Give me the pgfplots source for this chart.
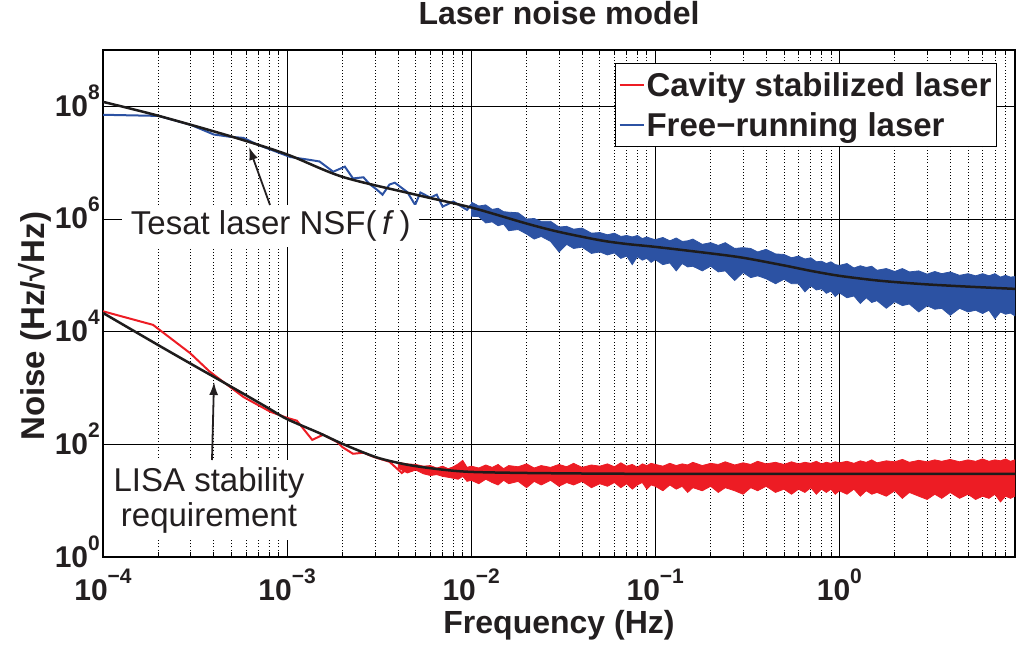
\documentclass[border=0pt]{standalone}
\usepackage{pgfplots}
\pgfplotsset{compat=1.18}
\usepgfplotslibrary{fillbetween}
\usetikzlibrary{arrows.meta}
\usepackage{fontspec}
\setmainfont{Liberation Sans}

\definecolor{cavred}{RGB}{237,28,36}
\definecolor{frblue}{RGB}{44,82,163}
\definecolor{modelblk}{RGB}{30,28,28}
\definecolor{txtblk}{RGB}{35,31,32}

% power-of-ten tick label with a raised exponent
\newcommand{\tk}[1]{10\raisebox{17pt}{\fontsize{21}{21}\selectfont #1}}

\begin{document}
\begin{tikzpicture}
\begin{axis}[
  at={(103pt,91pt)}, anchor=south west,
  scale only axis, width=912pt, height=507pt,
  xmode=log, ymode=log,
  xmin=1e-4, xmax=9, ymin=1, ymax=1e9,
  xtick={1e-4,1e-3,1e-2,1e-1,1},
  xticklabels={\tk{−4},\tk{−3},\tk{−2},\tk{−1},\tk{0}},
  minor xtick={2e-4,3e-4,4e-4,5e-4,6e-4,7e-4,8e-4,9e-4,
               2e-3,3e-3,4e-3,5e-3,6e-3,7e-3,8e-3,9e-3,
               0.02,0.03,0.04,0.05,0.06,0.07,0.08,0.09,
               0.2,0.3,0.4,0.5,0.6,0.7,0.8,0.9,
               2,3,4,5,6,7,8},
  ytick={1,1e2,1e4,1e6,1e8},
  yticklabels={\tk{0},\tk{2},\tk{4},\tk{6},\tk{8}},
  minor ytick={},
  xmajorgrids, xminorgrids, ymajorgrids,
  major grid style={black, line width=0.8pt},
  minor grid style={black, line width=0.7pt, dash pattern=on 1pt off 2.2pt},
  axis line style={black, line width=1.6pt},
  tick align=inside,
  major tick length=9pt, minor tick length=5pt,
  every tick/.style={black, line width=0.8pt},
  ticklabel style={font=\fontsize{30}{30}\selectfont\bfseries, text=txtblk},
  xticklabel style={anchor=base, inner sep=0pt, yshift=-43pt},
  yticklabel style={anchor=base east, inner sep=0pt, xshift=-3pt, yshift=-10pt},
  title={Laser noise model},
  title style={font=\fontsize{32}{32}\selectfont\bfseries, text=txtblk,
               anchor=base, inner sep=0pt, yshift=19pt},
  xlabel={Frequency (Hz)},
  ylabel={Noise (Hz/√Hz)},
  every axis x label/.style={at={(axis description cs:0.5,0)}, anchor=base,
      yshift=-76pt, inner sep=0pt, font=\fontsize{32}{32}\selectfont\bfseries, text=txtblk},
  every axis y label/.style={at={(axis description cs:-0.0636,0.455)}, rotate=90,
      anchor=base, inner sep=0pt, font=\fontsize{33}{33}\selectfont\bfseries, text=txtblk},
  legend style={at={(rel axis cs:0.9803,0.9744)}, anchor=north east,
      draw=black, line width=1.3pt, fill=white,
      inner xsep=3pt, inner ysep=1pt,
      font=\fontsize{33}{33}\selectfont\bfseries, text=txtblk,
      nodes={inner xsep=2pt, inner ysep=7.5pt},
      row sep=0pt},
  legend cell align=left,
  legend image code/.code={\draw[#1, line width=2pt] (0pt,0pt) -- (24pt,0pt);},
]

% measured spectra: low-frequency parts
\addplot[cavred, line width=2pt] coordinates {
 (1e-4,2.3e4) (1.87e-4,1.32e4) (2.97e-4,4170) (3.8e-4,1950) (5.8e-4,690)
 (8.1e-4,380) (1e-3,295) (1.13e-3,263) (1.37e-3,120) (1.57e-3,148)
 (1.87e-3,110) (2.0e-3,89) (2.28e-3,68) (2.6e-3,71) (2.95e-3,60)
 (3.6e-3,49) (4.2e-3,31) (4.65e-3,40) (5.3e-3,38) (6.2e-3,29)
};
\addlegendentry{Cavity stabilized laser}

\addplot[frblue, line width=2pt] coordinates {
 (1e-4,7.08e7) (2e-4,6.76e7) (3e-4,4.68e7) (4e-4,3.16e7) (4.9e-4,2.88e7)
 (5.8e-4,2.75e7) (6.9e-4,2.09e7) (8.8e-4,1.55e7) (1.04e-3,1.26e7)
 (1.33e-3,1.12e7) (1.5e-3,1.05e7) (1.78e-3,6.9e6) (2.06e-3,8.5e6)
 (2.28e-3,5.25e6) (2.6e-3,5.5e6) (2.8e-3,4.2e6) (3.08e-3,3.3e6)
 (3.3e-3,2.7e6) (3.6e-3,4.1e6) (3.85e-3,4.4e6) (4.5e-3,3.0e6)
 (4.96e-3,1.78e6) (5.3e-3,2.95e6) (6.0e-3,2.4e6) (6.5e-3,2.7e6)
 (7.0e-3,1.66e6) (8.0e-3,2.04e6) (9.5e-3,1.45e6) (1e-2,1.8e6)
};
\addlegendentry{Free−running laser}

% high-frequency noise bands (upper and lower envelopes)
\addplot[forget plot, name path=rtop, cavred, line width=0.8pt] coordinates {
 (0.004,48) (0.0045,45) (0.005,44) (0.0055,41) (0.006,42) (0.0065,38) (0.007,41)
 (0.0075,37) (0.008,40) (0.0085,45) (0.009,52) (0.0095,39)
 (0.010,41) (0.011,38) (0.012,43) (0.013,39) (0.014,44) (0.015,37) (0.016,42)
 (0.018,40) (0.020,45) (0.022,38) (0.024,42) (0.027,39) (0.030,44) (0.033,40)
 (0.036,46) (0.040,39) (0.045,43) (0.050,41) (0.055,45) (0.060,40) (0.065,47)
 (0.070,41) (0.075,44) (0.080,39) (0.085,45) (0.090,42) (0.095,46)
 (0.10,44) (0.11,41) (0.12,46) (0.13,42) (0.14,45) (0.15,43) (0.16,48) (0.18,42)
 (0.20,46) (0.22,44) (0.24,49) (0.27,43) (0.30,47) (0.33,44) (0.36,50) (0.40,45)
 (0.45,48) (0.50,44) (0.55,49) (0.60,45) (0.65,48) (0.70,46) (0.75,50) (0.80,45)
 (0.85,48) (0.90,46) (0.95,49)
 (1.0,47) (1.1,50) (1.2,46) (1.3,51) (1.4,48) (1.5,53) (1.6,47) (1.8,51) (2.0,49)
 (2.2,54) (2.4,48) (2.7,52) (3.0,49) (3.3,53) (3.6,50) (4.0,54) (4.5,49) (5.0,53)
 (5.5,50) (6.0,55) (6.5,50) (7.0,53) (7.5,51) (8.0,55) (8.5,50) (9.0,53)
};
\addplot[forget plot, name path=rbot, cavred, line width=0.8pt] coordinates {
 (0.004,38) (0.0045,31) (0.005,35) (0.0055,30) (0.006,28) (0.0065,29) (0.007,27)
 (0.0075,26) (0.008,25) (0.0085,24) (0.009,27) (0.0095,22)
 (0.010,23) (0.011,20) (0.012,24) (0.013,21) (0.014,19) (0.015,23) (0.016,20)
 (0.018,22) (0.020,17) (0.022,22) (0.024,19) (0.027,23) (0.030,18) (0.033,21)
 (0.036,19) (0.040,22) (0.045,17) (0.050,20) (0.055,18) (0.060,21) (0.065,17)
 (0.070,20) (0.075,16) (0.080,19) (0.085,21) (0.090,16) (0.095,19)
 (0.10,18) (0.11,15) (0.12,19) (0.13,16) (0.14,18) (0.15,14) (0.16,17) (0.18,15)
 (0.20,18) (0.22,14) (0.24,17) (0.27,15) (0.30,13) (0.33,17) (0.36,15) (0.40,18)
 (0.45,14) (0.50,16) (0.55,13) (0.60,16) (0.65,14) (0.70,17) (0.75,13) (0.80,16)
 (0.85,14) (0.90,16) (0.95,13)
 (1.0,15) (1.1,13) (1.2,16) (1.3,12) (1.4,15) (1.5,13) (1.6,14) (1.8,12) (2.0,15)
 (2.2,11) (2.4,14) (2.7,12) (3.0,10.5) (3.3,13) (3.6,11) (4.0,14) (4.5,11) (5.0,13)
 (5.5,10.5) (6.0,12) (6.5,11) (7.0,13) (7.5,9.5) (8.0,12) (8.5,11) (9.0,12)
};
\addplot[forget plot, cavred] fill between[of=rtop and rbot];

\addplot[forget plot, name path=btop, frblue, line width=0.8pt] coordinates {
 (0.010,2.0e6) (0.011,1.70e6) (0.012,1.78e6) (0.013,1.48e6) (0.014,1.55e6)
 (0.015,1.35e6) (0.016,1.32e6) (0.018,1.29e6) (0.020,1.0e6) (0.022,1.02e6)
 (0.024,9.1e5) (0.027,9.1e5) (0.030,7.2e5) (0.033,7.4e5) (0.036,6.6e5)
 (0.040,6.9e5) (0.045,5.6e5) (0.050,5.75e5) (0.055,5.25e5) (0.060,5.6e5)
 (0.065,4.9e5) (0.070,5.1e5) (0.075,4.8e5) (0.080,5.1e5) (0.085,4.5e5)
 (0.090,4.8e5) (0.095,4.5e5)
 (0.10,4.3e5) (0.11,4.7e5) (0.12,4.1e5) (0.13,4.6e5) (0.14,4.0e5) (0.15,4.1e5)
 (0.16,4.4e5) (0.18,3.55e5) (0.20,3.8e5) (0.22,3.4e5) (0.24,3.8e5) (0.27,3.0e5)
 (0.30,3.1e5) (0.33,3.0e5) (0.36,2.6e5) (0.40,2.9e5) (0.45,2.4e5) (0.50,2.35e5)
 (0.55,2.05e5) (0.60,2.2e5) (0.65,1.95e5) (0.70,2.05e5) (0.75,1.74e5)
 (0.80,1.78e5) (0.85,1.62e5) (0.90,1.74e5) (0.95,1.55e5)
 (1.0,1.5e5) (1.1,1.62e5) (1.2,1.35e5) (1.3,1.48e5) (1.4,1.38e5) (1.5,1.45e5)
 (1.6,1.23e5) (1.8,1.32e5) (2.0,1.17e5) (2.2,1.32e5) (2.4,1.15e5) (2.7,1.2e5)
 (3.0,1.05e5) (3.3,1.17e5) (3.6,1.07e5) (4.0,1.15e5) (4.5,1.0e5) (5.0,1.07e5)
 (5.5,9.8e4) (6.0,1.07e5) (6.5,9.8e4) (7.0,1.07e5) (7.5,9.3e4) (8.0,1.0e5)
 (8.5,9.3e4) (9.0,9.5e4)
};
\addplot[forget plot, name path=bbot, frblue, line width=0.8pt] coordinates {
 (0.010,1.12e6) (0.011,1.10e6) (0.012,8.5e5) (0.013,8.9e5) (0.014,7.6e5)
 (0.015,8.1e5) (0.016,6.2e5) (0.018,6.5e5) (0.020,5.4e5) (0.022,4.4e5)
 (0.024,4.9e5) (0.027,4.0e5) (0.030,2.6e5) (0.033,3.55e5) (0.036,3.0e5)
 (0.040,3.16e5) (0.045,2.45e5) (0.050,2.6e5) (0.055,2.3e5) (0.060,2.5e5)
 (0.065,2.0e5) (0.070,2.2e5) (0.075,1.55e5) (0.080,2.15e5) (0.085,1.86e5)
 (0.090,2.0e5) (0.095,1.7e5)
 (0.10,1.9e5) (0.11,1.55e5) (0.12,1.66e5) (0.13,1.2e5) (0.14,1.62e5)
 (0.15,1.41e5) (0.16,1.45e5) (0.18,1.2e5) (0.20,1.45e5) (0.22,1.15e5)
 (0.24,1.2e5) (0.27,8.1e4) (0.30,1.12e5) (0.33,9.1e4) (0.36,9.8e4) (0.40,8.7e4)
 (0.45,7.1e4) (0.50,8.5e4) (0.55,7.1e4) (0.60,7.1e4) (0.65,5.1e4) (0.70,6.5e4)
 (0.75,5.5e4) (0.80,5.75e4) (0.85,4.8e4) (0.90,5.25e4) (0.95,4.2e4)
 (1.0,4.9e4) (1.1,4.0e4) (1.2,4.3e4) (1.3,3.16e4) (1.4,4.0e4) (1.5,3.3e4)
 (1.6,3.55e4) (1.8,2.6e4) (2.0,3.4e4) (2.2,2.9e4) (2.4,3.1e4) (2.7,2.24e4)
 (3.0,2.9e4) (3.3,2.5e4) (3.6,2.6e4) (4.0,1.95e4) (4.5,2.6e4) (5.0,2.24e4)
 (5.5,2.4e4) (6.0,2.1e4) (6.5,2.4e4) (7.0,1.7e4) (7.5,2.24e4) (8.0,2.04e4)
 (8.5,2.14e4) (9.0,1.9e4)
};
\addplot[forget plot, frblue] fill between[of=btop and bbot];

% noise models
\addplot[forget plot, modelblk, line width=2.5pt, smooth] coordinates {
 (1e-4,1.2e8) (2e-4,6.8e7) (5e-4,2.9e7) (1e-3,1.4e7) (2e-3,5.6e6) (5e-3,2.7e6)
 (1e-2,1.6e6) (2e-2,8.3e5) (3e-2,5.9e5) (5e-2,4.2e5) (7e-2,3.6e5) (0.1,3.2e5)
 (0.2,2.45e5) (0.3,2.05e5) (0.5,1.5e5) (0.7,1.2e5) (1,9.8e4) (1.5,8.3e4)
 (2,7.6e4) (3,6.9e4) (5,6.3e4) (9,5.75e4)
};
\addplot[forget plot, modelblk, line width=2.5pt, smooth] coordinates {
 (1e-4,2.15e4) (2e-4,5750) (3e-4,2690) (4e-4,1580) (6e-4,740) (8e-4,430)
 (1e-3,280) (1.5e-3,158) (2e-3,102) (3e-3,60) (4e-3,47) (5e-3,41) (7e-3,35.5)
 (1e-2,32.4) (2e-2,31) (5e-2,30.2) (0.1,30) (1,30) (9,30)
};

% annotations
\node[fill=white, inner sep=0pt, minimum width=297pt, minimum height=42pt,
      font=\fontsize{33}{33}\selectfont, text=txtblk]
  at (rel axis cs:0.184,0.653) {Tesat laser NSF(\,\textit{f}\,)};
\draw[txtblk, line width=1.8pt, -{Latex[length=13pt,width=9pt]}]
  (rel axis cs:0.1831,0.6943) -- (rel axis cs:0.1601,0.8087);

\node[fill=white, inner sep=0pt, minimum width=202pt, minimum height=80pt,
      align=center, font=\fontsize{33}{35}\selectfont, text=txtblk]
  at (rel axis cs:0.1162,0.1124) {LISA stability\\requirement};
\draw[txtblk, line width=1.8pt, -{Latex[length=13pt,width=9pt]}]
  (rel axis cs:0.1195,0.1913) -- (rel axis cs:0.1217,0.3452);

\end{axis}
\pgfresetboundingbox
\path[use as bounding box] (0pt,0pt) rectangle (1019pt,648pt);
\end{tikzpicture}
\end{document}
